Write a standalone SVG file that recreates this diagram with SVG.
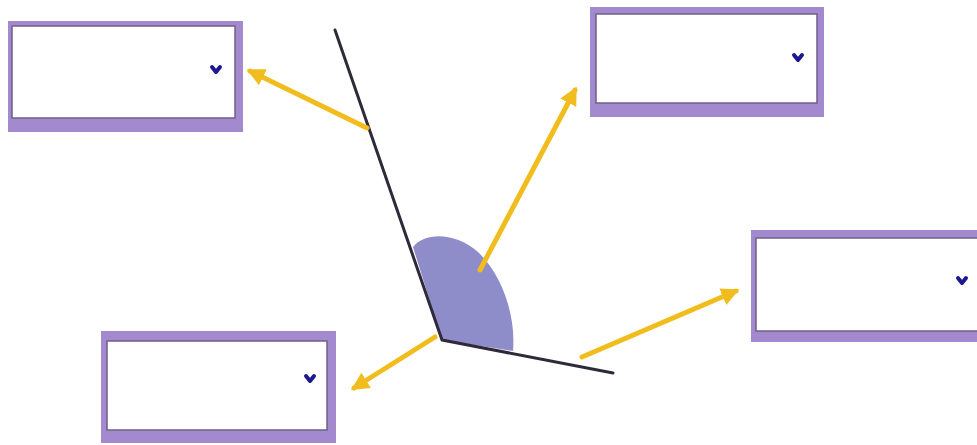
<svg xmlns="http://www.w3.org/2000/svg" width="977" height="445" viewBox="0 0 977 445">
<style>
.frame{fill:#a38ace;}
.inner{fill:#ffffff;stroke:#6e5f88;stroke-width:1.5;}
.chev{fill:none;stroke:#1c1890;stroke-width:4;stroke-linecap:round;stroke-linejoin:round;}
.arm{fill:none;stroke:#2e2a3a;stroke-width:3;stroke-linecap:round;stroke-linejoin:round;}
.arrow{fill:none;stroke:#f1bd1e;stroke-width:5;stroke-linecap:round;marker-end:url(#ah);}
</style>
<defs>
<marker id="ah" viewBox="0 0 10 10" refX="8" refY="5" markerWidth="3.6" markerHeight="3.6" orient="auto" markerUnits="strokeWidth">
<path d="M0,0 L10,5 L0,10 Z" fill="#f1bd1e"/>
</marker>
</defs>
<rect width="977" height="445" fill="#ffffff"/>
<g id="box-top-left">
<rect class="frame" x="8" y="21" width="235" height="111"/>
<rect class="inner" x="12" y="26" width="223" height="92"/>
<path class="chev" d="M212,67 L216,72 L220,67"/>
</g>
<g id="box-top-right">
<rect class="frame" x="590" y="7" width="234" height="110"/>
<rect class="inner" x="596" y="14" width="221" height="89"/>
<path class="chev" d="M794,55 L798,60 L802,55"/>
</g>
<g id="box-right">
<rect class="frame" x="751" y="230" width="230" height="112"/>
<rect class="inner" x="756" y="238" width="225" height="93"/>
<path class="chev" d="M958,278 L962,283 L966,278"/>
</g>
<g id="box-bottom-left">
<rect class="frame" x="101" y="331" width="235" height="112"/>
<rect class="inner" x="107" y="341" width="220" height="89"/>
<path class="chev" d="M306,376 L310,381 L314,376"/>
</g>
<g id="angle">
<path d="M442,340 L413,247 C425,232 455,232 478,252 C502,275 516,315 513,351 Z" fill="#8f8cca"/>
<path class="arm" d="M335,30 L442,340 L613,373"/>
</g>
<g id="connectors">
<path class="arrow" d="M367,128 L250,71"/>
<path class="arrow" d="M480,270 L575,90"/>
<path class="arrow" d="M435,337 L354,388"/>
<path class="arrow" d="M582,357 L736,291"/>
</g>
</svg>
